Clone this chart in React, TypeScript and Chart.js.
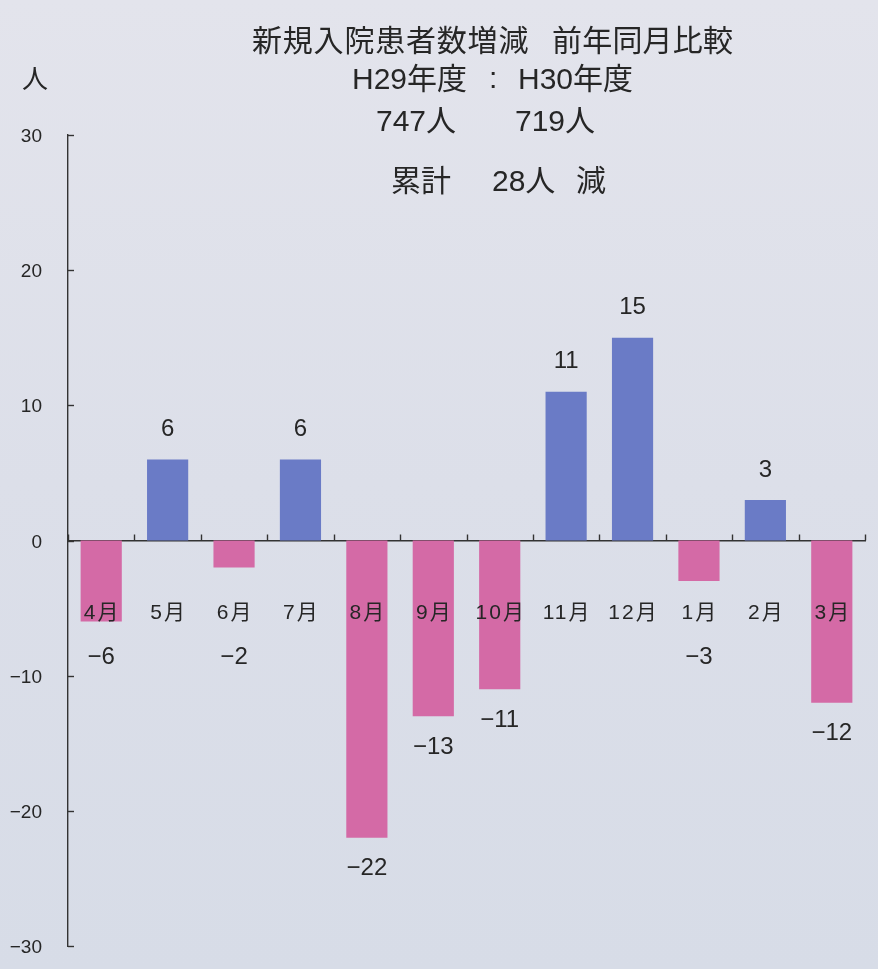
import React, { useEffect, useRef } from "react";
import { Chart, registerables } from "chart.js";

Chart.register(...registerables);

const months = ["4月", "5月", "6月", "7月", "8月", "9月", "10月", "11月", "12月", "1月", "2月", "3月"];
const diffs = [-6, 6, -2, 6, -22, -13, -11, 11, 15, -3, 3, -12];
const yTicks = [30, 20, 10, 0, -10, -20, -30];

const BLUE = "#6a7bc6";
const PINK = "#d46aa6";
const TEXT = "#262626";
const FONT = '"Liberation Sans", "Noto Sans CJK JP", sans-serif';

const fmt = (v: number) => (v < 0 ? "\u2212" + Math.abs(v) : String(v));

const decorPlugin = {
  id: "decor",
  afterDatasetsDraw(chart: any) {
    const ctx = chart.ctx;
    const x = chart.scales.x;
    const y = chart.scales.y;
    const y0 = y.getPixelForValue(0);
    ctx.save();
    ctx.strokeStyle = "#333";
    ctx.lineWidth = 1.4;
    const n = months.length;
    const half = (x.getPixelForValue(1) - x.getPixelForValue(0)) / 2;
    // x tick marks at category boundaries, pointing up
    for (let i = 0; i <= n; i++) {
      const px = Math.round(x.getPixelForValue(i) - half) + 0.5;
      ctx.beginPath();
      ctx.moveTo(px, y0);
      ctx.lineTo(px, y0 - 6);
      ctx.stroke();
    }
    // y tick marks pointing right, with labels
    ctx.fillStyle = TEXT;
    ctx.font = `19px ${FONT}`;
    ctx.textAlign = "right";
    ctx.textBaseline = "middle";
    yTicks.forEach((v) => {
      const py = Math.round(y.getPixelForValue(v)) + 0.5;
      ctx.beginPath();
      ctx.moveTo(x.left, py);
      ctx.lineTo(x.left + 6, py);
      ctx.stroke();
      ctx.fillText(fmt(v), x.left - 26, py + 1);
    });
    ctx.textAlign = "center";
    // month labels (drawn over the bars)
    ctx.font = `21px ${FONT}`;
    (ctx as any).letterSpacing = "2px";
    months.forEach((m, i) => {
      ctx.fillText(m, x.getPixelForValue(i) + 1, y0 + 73);
    });
    (ctx as any).letterSpacing = "0px";
    // value labels
    const meta = chart.getDatasetMeta(0);
    ctx.font = `24px ${FONT}`;
    meta.data.forEach((bar: any, i: number) => {
      const v = diffs[i];
      let ly;
      if (v >= 0) ly = bar.y - 30;
      else ly = Math.max(bar.y + 31, y0 + 117);
      ctx.fillText(fmt(v), bar.x, ly);
    });
    ctx.restore();
  },
};

export default function App() {
  const ref = useRef<HTMLCanvasElement>(null);
  useEffect(() => {
    document.body.style.margin = "0";
    const chart = new Chart(ref.current!, {
      type: "bar",
      data: {
        labels: months,
        datasets: [
          {
            data: diffs,
            backgroundColor: diffs.map((v) => (v >= 0 ? BLUE : PINK)),
            barPercentage: 0.62,
            categoryPercentage: 1,
            borderWidth: 0,
          },
        ],
      },
      options: {
        animation: false,
        responsive: false,
        layout: { padding: { top: 135, bottom: 23, left: 0, right: 13 } },
        plugins: { legend: { display: false }, tooltip: { enabled: false } },
        scales: {
          x: {
            position: { y: 0 } as any,
            grid: { display: false, drawTicks: false },
            border: { display: true, color: "#333", width: 1.4 },
            ticks: { display: false },
          },
          y: {
            min: -30,
            max: 30,
            afterFit: (s: any) => {
              s.width = 68;
            },
            grid: { display: false, drawTicks: false },
            border: { display: true, color: "#333", width: 1.4 },
            ticks: { display: false, stepSize: 10 },
          },
        },
      },
      plugins: [decorPlugin],
    });
    return () => chart.destroy();
  }, []);

  const seg = (top: number, left: number, text: string, size = 30, ls = 0): React.ReactNode => (
    <div
      style={{
        position: "absolute",
        top,
        left,
        transform: "translateY(-50%)",
        whiteSpace: "pre",
        fontFamily: FONT,
        fontSize: size,
        letterSpacing: ls,
        color: TEXT,
        lineHeight: 1,
      }}
    >
      {text}
    </div>
  );

  return (
    <div
      style={{
        position: "relative",
        width: 878,
        height: 969,
        background: "linear-gradient(180deg, #e3e4ec 0%, #dcdfe9 50%, #d7dce7 100%)",
        overflow: "hidden",
      }}
    >
      <canvas ref={ref} width={878} height={969} style={{ position: "absolute", left: 0, top: 0 }} />
      {seg(79, 22, "人", 26)}
      {seg(41, 252, "新規入院患者数増減", 30, 0.8)}
      {seg(41, 552, "前年同月比較", 30, 0.2)}
      {seg(79, 352, "H29年度", 30)}
      {seg(78, 489, ":", 30)}
      {seg(79, 518, "H30年度", 30)}
      {seg(121, 376, "747人", 30)}
      {seg(121, 515, "719人", 30)}
      {seg(181, 391, "累計", 30)}
      {seg(181, 492, "28人", 30)}
      {seg(181, 576, "減", 30)}
    </div>
  );
}
